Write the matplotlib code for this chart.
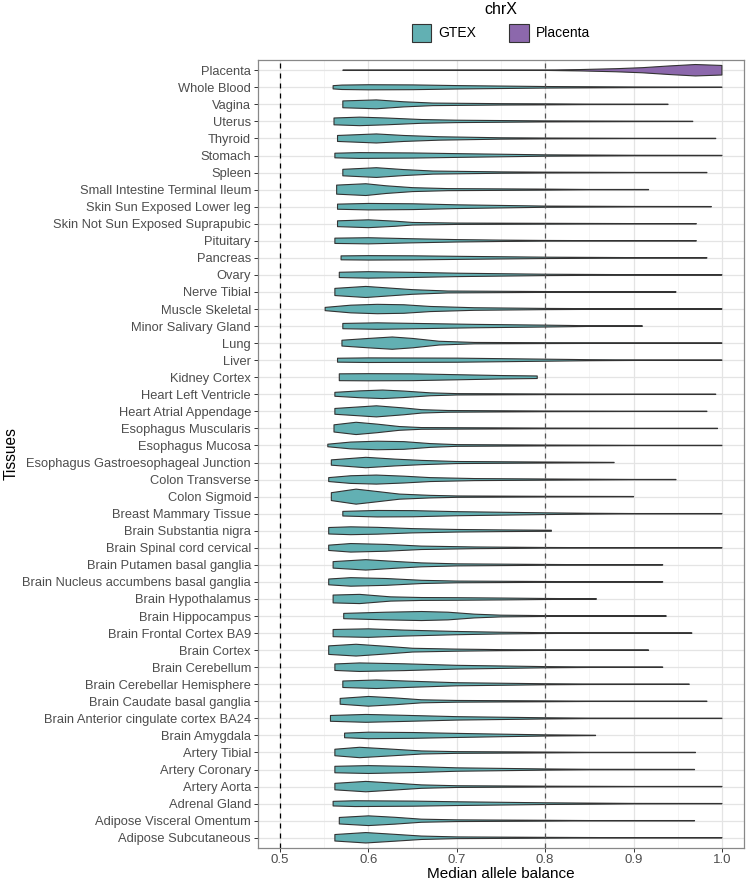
import matplotlib
matplotlib.use("Agg")
import matplotlib.pyplot as plt
from matplotlib.patches import Patch, Polygon
import numpy as np

plt.rcParams['font.family'] = ['Liberation Sans', 'DejaVu Sans']

# Tissues from top to bottom
tissues = [
    "Placenta", "Whole Blood", "Vagina", "Uterus", "Thyroid", "Stomach", "Spleen",
    "Small Intestine Terminal Ileum", "Skin Sun Exposed Lower leg",
    "Skin Not Sun Exposed Suprapubic", "Pituitary", "Pancreas", "Ovary",
    "Nerve Tibial", "Muscle Skeletal", "Minor Salivary Gland", "Lung", "Liver",
    "Kidney Cortex", "Heart Left Ventricle", "Heart Atrial Appendage",
    "Esophagus Muscularis", "Esophagus Mucosa",
    "Esophagus Gastroesophageal Junction", "Colon Transverse", "Colon Sigmoid",
    "Breast Mammary Tissue", "Brain Substantia nigra", "Brain Spinal cord cervical",
    "Brain Putamen basal ganglia", "Brain Nucleus accumbens basal ganglia",
    "Brain Hypothalamus", "Brain Hippocampus", "Brain Frontal Cortex BA9",
    "Brain Cortex", "Brain Cerebellum", "Brain Cerebellar Hemisphere",
    "Brain Caudate basal ganglia", "Brain Anterior cingulate cortex BA24",
    "Brain Amygdala", "Artery Tibial", "Artery Coronary", "Artery Aorta",
    "Adrenal Gland", "Adipose Visceral Omentum", "Adipose Subcutaneous",
]
groups = ["Placenta"] + ["GTEX"] * (len(tissues) - 1)

# Violin outlines: allele-balance values and full width
# of the violin (in category units) at each of them
knot_values = [
    [0.571, 0.70, 0.80, 0.84, 0.88, 0.91, 0.94, 0.97, 1.0],
    [0.560, 0.57, 0.60, 0.65, 0.70, 0.80, 0.90, 1.0],
    [0.571, 0.609, 0.64, 0.673, 0.75, 0.80, 0.85, 0.939],
    [0.561, 0.59, 0.62, 0.66, 0.70, 0.80, 0.90, 0.967],
    [0.565, 0.609, 0.64, 0.68, 0.75, 0.80, 0.90, 0.993],
    [0.562, 0.59, 0.65, 0.70, 0.80, 0.90, 1.0],
    [0.571, 0.609, 0.64, 0.673, 0.75, 0.80, 0.90, 0.983],
    [0.564, 0.597, 0.62, 0.65, 0.69, 0.80, 0.85, 0.917],
    [0.565, 0.60, 0.65, 0.70, 0.80, 0.90, 0.988],
    [0.565, 0.60, 0.63, 0.65, 0.70, 0.80, 0.90, 0.971],
    [0.562, 0.60, 0.65, 0.70, 0.75, 0.80, 0.85, 0.971],
    [0.569, 0.60, 0.65, 0.70, 0.80, 0.90, 0.983],
    [0.567, 0.60, 0.65, 0.70, 0.80, 0.90, 1.0],
    [0.562, 0.597, 0.625, 0.65, 0.69, 0.80, 0.85, 0.948],
    [0.551, 0.58, 0.61, 0.64, 0.67, 0.72, 0.80, 0.90, 1.0],
    [0.571, 0.61, 0.66, 0.72, 0.80, 0.85, 0.91],
    [0.570, 0.60, 0.627, 0.65, 0.68, 0.72, 0.80, 0.90, 1.0],
    [0.565, 0.60, 0.70, 0.80, 0.85, 0.92, 1.0],
    [0.567, 0.60, 0.65, 0.70, 0.75, 0.791],
    [0.562, 0.59, 0.616, 0.64, 0.67, 0.70, 0.80, 0.90, 0.993],
    [0.562, 0.609, 0.64, 0.66, 0.69, 0.80, 0.90, 0.983],
    [0.561, 0.586, 0.61, 0.635, 0.66, 0.80, 0.90, 0.995],
    [0.554, 0.58, 0.61, 0.64, 0.67, 0.70, 0.80, 0.90, 1.0],
    [0.558, 0.597, 0.63, 0.66, 0.70, 0.80, 0.878],
    [0.555, 0.58, 0.609, 0.64, 0.67, 0.72, 0.80, 0.90, 0.948],
    [0.558, 0.586, 0.61, 0.635, 0.67, 0.70, 0.80, 0.90],
    [0.571, 0.61, 0.65, 0.70, 0.80, 0.85, 0.90, 1.0],
    [0.555, 0.58, 0.61, 0.65, 0.70, 0.75, 0.807],
    [0.555, 0.58, 0.62, 0.66, 0.72, 0.80, 0.85, 1.0],
    [0.560, 0.597, 0.63, 0.66, 0.70, 0.80, 0.85, 0.933],
    [0.555, 0.58, 0.62, 0.66, 0.70, 0.80, 0.85, 0.933],
    [0.560, 0.59, 0.625, 0.66, 0.70, 0.75, 0.80, 0.858],
    [0.572, 0.62, 0.66, 0.69, 0.72, 0.75, 0.80, 0.85, 0.937],
    [0.560, 0.60, 0.64, 0.70, 0.75, 0.80, 0.85, 0.966],
    [0.555, 0.586, 0.62, 0.65, 0.70, 0.75, 0.80, 0.917],
    [0.562, 0.59, 0.64, 0.70, 0.80, 0.85, 0.933],
    [0.571, 0.609, 0.65, 0.70, 0.80, 0.85, 0.963],
    [0.568, 0.60, 0.63, 0.66, 0.70, 0.80, 0.85, 0.983],
    [0.557, 0.597, 0.64, 0.70, 0.80, 0.85, 1.0],
    [0.573, 0.60, 0.65, 0.70, 0.75, 0.80, 0.857],
    [0.562, 0.59, 0.625, 0.66, 0.70, 0.80, 0.85, 0.970],
    [0.562, 0.60, 0.65, 0.70, 0.80, 0.85, 0.969],
    [0.562, 0.597, 0.63, 0.66, 0.70, 0.80, 0.90, 1.0],
    [0.560, 0.585, 0.65, 0.70, 0.80, 0.90, 1.0],
    [0.567, 0.60, 0.63, 0.66, 0.70, 0.80, 0.85, 0.969],
    [0.562, 0.597, 0.63, 0.66, 0.70, 0.80, 0.87, 1.0],
]
knot_widths = [
    [0.01, 0.01, 0.02, 0.08, 0.18, 0.30, 0.50, 0.67, 0.56],
    [0.19, 0.26, 0.30, 0.28, 0.20, 0.09, 0.04, 0.02],
    [0.40, 0.52, 0.30, 0.15, 0.08, 0.06, 0.03, 0.02],
    [0.40, 0.50, 0.40, 0.22, 0.14, 0.06, 0.03, 0.02],
    [0.35, 0.53, 0.35, 0.20, 0.08, 0.05, 0.02, 0.02],
    [0.27, 0.34, 0.30, 0.22, 0.08, 0.03, 0.02],
    [0.38, 0.57, 0.35, 0.18, 0.08, 0.05, 0.02, 0.02],
    [0.53, 0.69, 0.45, 0.23, 0.12, 0.06, 0.02, 0.02],
    [0.30, 0.38, 0.34, 0.22, 0.07, 0.03, 0.02],
    [0.34, 0.46, 0.30, 0.15, 0.08, 0.05, 0.02, 0.02],
    [0.31, 0.36, 0.24, 0.14, 0.08, 0.04, 0.02, 0.02],
    [0.23, 0.26, 0.24, 0.18, 0.08, 0.03, 0.02],
    [0.31, 0.38, 0.30, 0.20, 0.08, 0.03, 0.02],
    [0.42, 0.65, 0.45, 0.27, 0.11, 0.05, 0.02, 0.02],
    [0.19, 0.45, 0.55, 0.50, 0.30, 0.15, 0.07, 0.02, 0.02],
    [0.31, 0.38, 0.30, 0.20, 0.11, 0.04, 0.02],
    [0.34, 0.55, 0.72, 0.55, 0.22, 0.08, 0.05, 0.02, 0.02],
    [0.23, 0.27, 0.24, 0.12, 0.06, 0.02, 0.02],
    [0.40, 0.42, 0.40, 0.30, 0.20, 0.15],
    [0.23, 0.40, 0.50, 0.38, 0.17, 0.08, 0.04, 0.02, 0.02],
    [0.34, 0.65, 0.40, 0.20, 0.10, 0.04, 0.02, 0.02],
    [0.42, 0.72, 0.50, 0.22, 0.10, 0.04, 0.02, 0.02],
    [0.15, 0.40, 0.50, 0.45, 0.22, 0.10, 0.05, 0.02, 0.02],
    [0.31, 0.61, 0.40, 0.25, 0.12, 0.06, 0.02],
    [0.23, 0.45, 0.53, 0.40, 0.23, 0.12, 0.07, 0.02, 0.02],
    [0.46, 0.88, 0.60, 0.30, 0.15, 0.08, 0.04, 0.02],
    [0.27, 0.38, 0.36, 0.24, 0.10, 0.05, 0.02, 0.02],
    [0.38, 0.46, 0.40, 0.25, 0.15, 0.10, 0.06],
    [0.31, 0.50, 0.40, 0.20, 0.10, 0.04, 0.02, 0.02],
    [0.38, 0.61, 0.40, 0.23, 0.12, 0.05, 0.02, 0.02],
    [0.34, 0.50, 0.40, 0.19, 0.10, 0.05, 0.02, 0.02],
    [0.46, 0.54, 0.25, 0.17, 0.15, 0.11, 0.06, 0.02],
    [0.31, 0.45, 0.53, 0.45, 0.22, 0.10, 0.05, 0.02, 0.02],
    [0.42, 0.50, 0.35, 0.19, 0.10, 0.05, 0.02, 0.02],
    [0.50, 0.69, 0.45, 0.22, 0.12, 0.06, 0.03, 0.02],
    [0.38, 0.50, 0.40, 0.22, 0.07, 0.03, 0.02],
    [0.38, 0.50, 0.35, 0.18, 0.06, 0.03, 0.02],
    [0.34, 0.57, 0.40, 0.18, 0.10, 0.05, 0.02, 0.02],
    [0.34, 0.46, 0.36, 0.20, 0.07, 0.03, 0.02],
    [0.27, 0.38, 0.34, 0.24, 0.15, 0.07, 0.02],
    [0.38, 0.61, 0.40, 0.18, 0.10, 0.05, 0.02, 0.02],
    [0.38, 0.46, 0.36, 0.20, 0.07, 0.03, 0.02],
    [0.38, 0.61, 0.40, 0.20, 0.10, 0.05, 0.02, 0.02],
    [0.27, 0.34, 0.30, 0.22, 0.10, 0.03, 0.02],
    [0.38, 0.57, 0.40, 0.18, 0.10, 0.05, 0.02, 0.02],
    [0.38, 0.61, 0.40, 0.20, 0.10, 0.05, 0.02, 0.02],
]

group_colors = {"GTEX": "#62b0b3", "Placenta": "#8c68ac"}
x_ticks = [0.5, 0.6, 0.7, 0.8, 0.9, 1.0]
x_tick_labels = ["0.5", "0.6", "0.7", "0.8", "0.9", "1.0"]
threshold_lines = [0.5, 0.8]

text_col = "#4d4d4d"
fig = plt.figure(figsize=(7.47, 8.83), dpi=100)
ax = fig.add_axes([258 / 747, 1 - 848 / 883, (744 - 258) / 747, (848 - 60) / 883])

n = len(tissues)
ypos = {t: n - 1 - i for i, t in enumerate(tissues)}

ax.set_xlim(0.475, 1.025)
ax.set_ylim(-0.6, n - 1 + 0.6)

# grid
for v in np.arange(0.55, 1.0, 0.1):
    ax.axvline(v, color="#f0f0f0", lw=0.5, zorder=0)
for v in x_ticks:
    ax.axvline(v, color="#e4e4e4", lw=0.9, zorder=0)
for i in range(n):
    ax.axhline(i, color="#e4e4e4", lw=0.9, zorder=0)

ax.axvline(threshold_lines[0], color="black", lw=0.9, ls=(0, (4, 4)), zorder=1)

for t, g, xs, ws in zip(tissues, groups, knot_values, knot_widths):
    y = ypos[t]
    xs = np.asarray(xs)
    hw = np.asarray(ws) / 2
    px = np.concatenate([xs, xs[::-1]])
    py = np.concatenate([y + hw, (y - hw)[::-1]])
    poly = Polygon(np.column_stack([px, py]), closed=True, facecolor=group_colors[g],
                   edgecolor="#333333", lw=0.8, zorder=2, joinstyle="round")
    ax.add_patch(poly)

ax.axvline(threshold_lines[1], color="#555555", lw=0.9, ls=(0, (4, 4)), zorder=3)

ax.set_yticks([ypos[t] for t in tissues])
ax.set_yticklabels(tissues)
ax.set_xticks(x_ticks)
ax.set_xticklabels(x_tick_labels)
ax.tick_params(axis="y", colors="#333333", labelcolor=text_col, labelsize=9.3,
               length=3, width=0.7, pad=2)
ax.tick_params(axis="x", colors="#333333", labelcolor=text_col, labelsize=9.5,
               length=3, width=0.7, pad=1.5)
for s in ax.spines.values():
    s.set_color("#888888")
    s.set_linewidth(0.9)

ax.set_xlabel("Median allele balance", fontsize=11, color="black", va="center")
ax.xaxis.set_label_coords(0.5, (848 - 874.5) / 788)
ax.set_ylabel("Tissues", fontsize=11.2, color="black", va="center")
ax.yaxis.set_label_coords((11 - 258) / 486, 0.5)

handles = [Patch(facecolor=group_colors[k], edgecolor="#333333", lw=0.8, label=k)
           for k in ["GTEX", "Placenta"]]
leg = fig.legend(handles=handles, title="chrX", ncol=2, loc="upper center",
                 bbox_to_anchor=(501 / 747, 1.012), frameon=False, fontsize=10,
                 title_fontsize=11.5, handlelength=1.4, handleheight=1.6,
                 columnspacing=2.4, handletextpad=0.5)
leg.get_title().set_color("black")
for txt in leg.get_texts():
    txt.set_color("black")

fig.savefig("out.png", dpi=100)
